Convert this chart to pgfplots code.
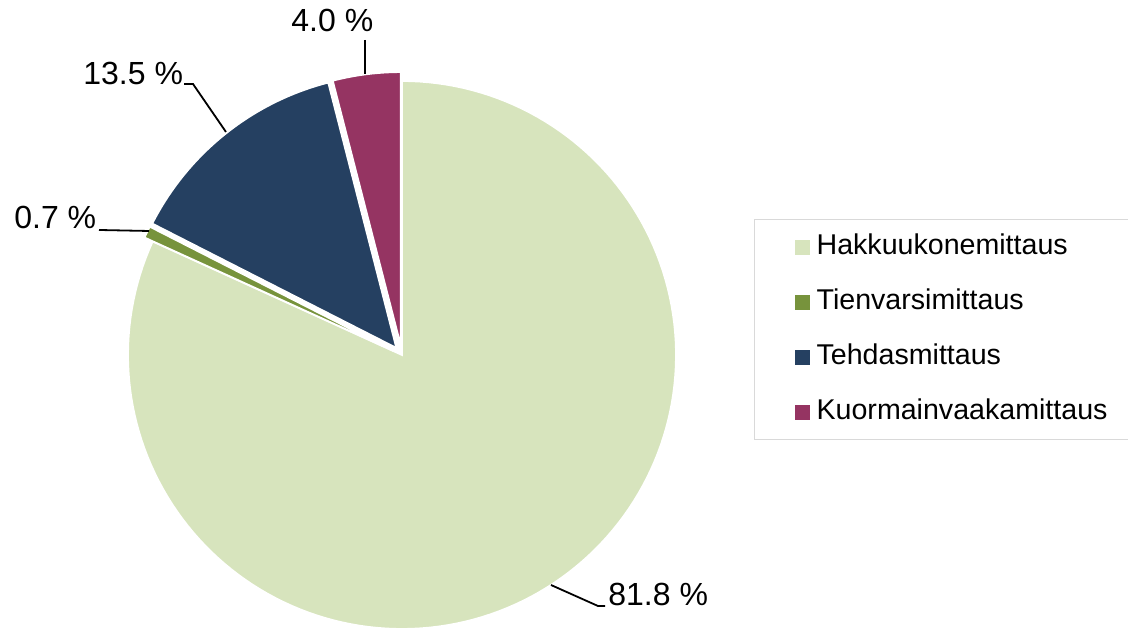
\documentclass[border=0pt]{standalone}
\usepackage{fontspec}
\setmainfont{Liberation Sans}
\usepackage{pgfplots}
\usepackage{pgfplotstable}
\pgfplotsset{compat=1.18}
\definecolor{cA}{HTML}{D7E4BD}
\definecolor{cB}{HTML}{77933C}
\definecolor{cC}{HTML}{254061}
\definecolor{cD}{HTML}{953462}
\definecolor{legbord}{HTML}{D9D9D9}

\pgfplotstableread{
name value
Hakkuukonemittaus 81.8
Tienvarsimittaus 0.7
Tehdasmittaus 13.5
Kuormainvaakamittaus 4.0
}\piedata

\pgfplotstablegetelem{0}{value}\of\piedata \edef\vA{\pgfplotsretval}
\pgfplotstablegetelem{1}{value}\of\piedata \edef\vB{\pgfplotsretval}
\pgfplotstablegetelem{2}{value}\of\piedata \edef\vC{\pgfplotsretval}
\pgfplotstablegetelem{3}{value}\of\piedata \edef\vD{\pgfplotsretval}

% slice boundaries, clockwise from 12 o'clock
\pgfmathsetmacro\aA{90}
\pgfmathsetmacro\aB{\aA-3.6*\vA}
\pgfmathsetmacro\aC{\aB-3.6*\vB}
\pgfmathsetmacro\aD{\aC-3.6*\vC}
\pgfmathsetmacro\aE{\aD-3.6*\vD}
% centre and radius (pixel units of the axis)
\def\cx{402}\def\cy{275}\def\R{274}\def\ex{9}
\pgfmathsetmacro\bx{\cx+\ex*cos((\aB+\aC)/2)}
\pgfmathsetmacro\by{\cy+\ex*sin((\aB+\aC)/2)}
\pgfmathsetmacro\ccx{\cx+\ex*cos((\aC+\aD)/2)}
\pgfmathsetmacro\ccy{\cy+\ex*sin((\aC+\aD)/2)}
\pgfmathsetmacro\dx{\cx+\ex*cos((\aD+\aE)/2)}
\pgfmathsetmacro\dy{\cy+\ex*sin((\aD+\aE)/2)}

\begin{document}
\begin{tikzpicture}
\begin{axis}[
  scale only axis, width=564pt, height=315pt,
  xmin=0, xmax=1128, ymin=0, ymax=630,
  hide axis, clip=false,
  legend image code/.code={\fill[#1,draw=none] (0pt,-3.75pt) rectangle (7.5pt,3.75pt);},
  legend cell align=left,
  legend style={at={(axis cs:754,411)}, anchor=north west,
    draw=legbord, line width=0.6pt,
    inner xsep=20pt, inner ysep=7pt, row sep=14pt,
    font=\fontsize{14.3}{17}\selectfont,
    nodes={inner sep=0pt, text height=10.5pt, text depth=3pt},
    /tikz/every odd column/.append style={column sep=3.5pt}},
  every axis plot/.append style={draw=white, line width=0.9pt},
]
\addplot[fill=cA, domain=\aB:\aA, samples=160, variable=\t]
  ({\cx+\R*cos(\t)},{\cy+\R*sin(\t)}) -- (axis cs:\cx,\cy) -- cycle;
\addlegendentry{Hakkuukonemittaus}
\addplot[fill=cB, domain=\aC:\aB, samples=10, variable=\t]
  ({\bx+\R*cos(\t)},{\by+\R*sin(\t)}) -- (axis cs:\bx,\by) -- cycle;
\addlegendentry{Tienvarsimittaus}
\addplot[fill=cC, domain=\aD:\aC, samples=60, variable=\t]
  ({\ccx+\R*cos(\t)},{\ccy+\R*sin(\t)}) -- (axis cs:\ccx,\ccy) -- cycle;
\addlegendentry{Tehdasmittaus}
\addplot[fill=cD, domain=\aE:\aD, samples=20, variable=\t]
  ({\dx+\R*cos(\t)},{\dy+\R*sin(\t)}) -- (axis cs:\dx,\dy) -- cycle;
\addlegendentry{Kuormainvaakamittaus}

% data labels with leader lines
\draw[black, line width=0.9pt] (axis cs:365,590) -- (axis cs:365,556);
\node[anchor=base west, inner sep=0pt, font=\fontsize{16}{19}\selectfont] at (axis cs:291,598) {4.0 \%};
\draw[black, line width=0.9pt] (axis cs:184,546) -- (axis cs:193,546) -- (axis cs:226,498);
\node[anchor=base west, inner sep=0pt, font=\fontsize{16}{19}\selectfont] at (axis cs:83,545) {13.5 \%};
\draw[black, line width=0.9pt] (axis cs:99,400) -- (axis cs:149,399);
\node[anchor=base west, inner sep=0pt, font=\fontsize{16}{19}\selectfont] at (axis cs:14,401) {0.7 \%};
\draw[black, line width=0.9pt] (axis cs:551,45) -- (axis cs:598,24) -- (axis cs:605,24);
\node[anchor=base west, inner sep=0pt, font=\fontsize{16}{19}\selectfont] at (axis cs:608,24) {81.8 \%};
\end{axis}
\pgfresetboundingbox
\path (current axis.south west) rectangle (current axis.north east);
\end{tikzpicture}
\end{document}
